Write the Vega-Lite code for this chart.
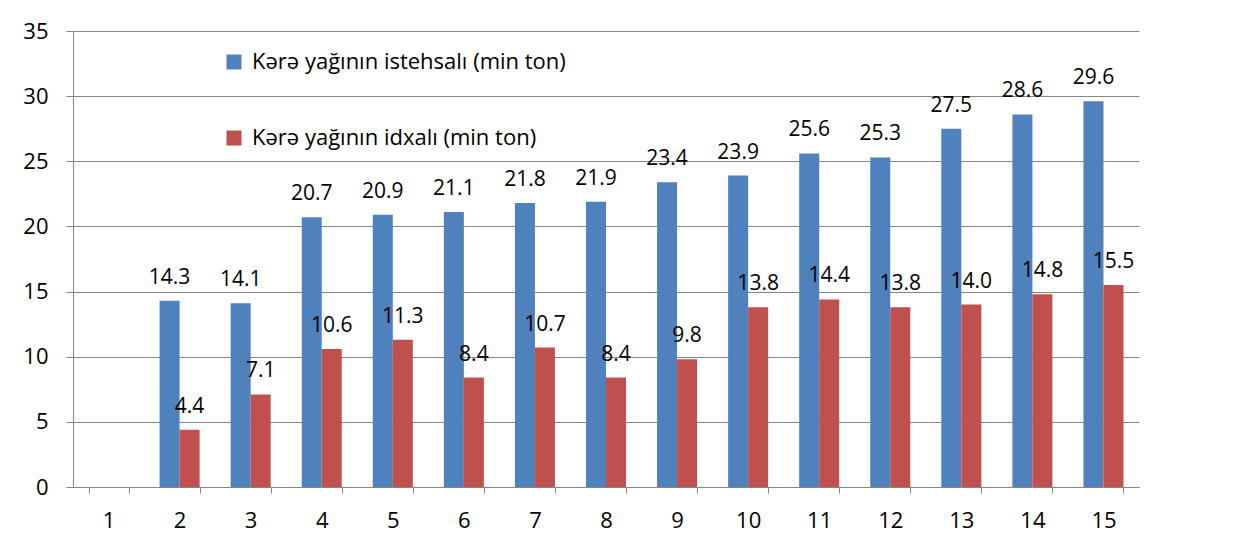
{
  "$schema": "https://vega.github.io/schema/vega-lite/v6.json",
  "width": 1066,
  "height": 456,
  "autosize": {"type": "none"},
  "padding": {"left": 73, "top": 31, "right": 105, "bottom": 62},
  "background": "white",
  "config": {
    "font": "Open Sans",
    "view": {"stroke": null},
    "axis": {"labelFont": "Open Sans", "labelFontSize": 22, "labelColor": "#000000", "domainColor": "#868686", "tickColor": "#868686", "gridColor": "#868686", "title": null}
  },
  "data": {
    "values": [
      {"n": 2, "series": "Kərə yağının istehsalı  (min ton)", "value": 14.3},
      {"n": 3, "series": "Kərə yağının istehsalı  (min ton)", "value": 14.1},
      {"n": 4, "series": "Kərə yağının istehsalı  (min ton)", "value": 20.7},
      {"n": 5, "series": "Kərə yağının istehsalı  (min ton)", "value": 20.9},
      {"n": 6, "series": "Kərə yağının istehsalı  (min ton)", "value": 21.1},
      {"n": 7, "series": "Kərə yağının istehsalı  (min ton)", "value": 21.8},
      {"n": 8, "series": "Kərə yağının istehsalı  (min ton)", "value": 21.9},
      {"n": 9, "series": "Kərə yağının istehsalı  (min ton)", "value": 23.4},
      {"n": 10, "series": "Kərə yağının istehsalı  (min ton)", "value": 23.9},
      {"n": 11, "series": "Kərə yağının istehsalı  (min ton)", "value": 25.6},
      {"n": 12, "series": "Kərə yağının istehsalı  (min ton)", "value": 25.3},
      {"n": 13, "series": "Kərə yağının istehsalı  (min ton)", "value": 27.5},
      {"n": 14, "series": "Kərə yağının istehsalı  (min ton)", "value": 28.6},
      {"n": 15, "series": "Kərə yağının istehsalı  (min ton)", "value": 29.6},
      {"n": 2, "series": "Kərə yağının idxalı (min ton)", "value": 4.4},
      {"n": 3, "series": "Kərə yağının idxalı (min ton)", "value": 7.1},
      {"n": 4, "series": "Kərə yağının idxalı (min ton)", "value": 10.6},
      {"n": 5, "series": "Kərə yağının idxalı (min ton)", "value": 11.3},
      {"n": 6, "series": "Kərə yağının idxalı (min ton)", "value": 8.4},
      {"n": 7, "series": "Kərə yağının idxalı (min ton)", "value": 10.7},
      {"n": 8, "series": "Kərə yağının idxalı (min ton)", "value": 8.4},
      {"n": 9, "series": "Kərə yağının idxalı (min ton)", "value": 9.8},
      {"n": 10, "series": "Kərə yağının idxalı (min ton)", "value": 13.8},
      {"n": 11, "series": "Kərə yağının idxalı (min ton)", "value": 14.4},
      {"n": 12, "series": "Kərə yağının idxalı (min ton)", "value": 13.8},
      {"n": 13, "series": "Kərə yağının idxalı (min ton)", "value": 14.0},
      {"n": 14, "series": "Kərə yağının idxalı (min ton)", "value": 14.8},
      {"n": 15, "series": "Kərə yağının idxalı (min ton)", "value": 15.5}
    ]
  },
  "encoding": {
    "x": {
      "field": "n",
      "type": "ordinal",
      "scale": {"domain": [1,2,3,4,5,6,7,8,9,10,11,12,13,14,15], "paddingInner": 0.437, "paddingOuter": 0.2185},
      "axis": {"labelAngle": 0, "tickBand": "extent", "tickSize": 6, "labelPadding": 17, "grid": false}
    },
    "xOffset": {
      "field": "series",
      "type": "nominal",
      "scale": {"domain": ["Kərə yağının istehsalı  (min ton)", "Kərə yağının idxalı (min ton)"], "paddingInner": 0, "paddingOuter": 0}
    },
    "y": {
      "field": "value",
      "type": "quantitative",
      "scale": {"domain": [0, 35], "nice": false},
      "axis": {"values": [0,5,10,15,20,25,30,35], "tickSize": 7, "labelPadding": 18, "grid": true, "gridWidth": 1}
    }
  },
  "layer": [
    {
      "mark": {"type": "bar"},
      "encoding": {
        "color": {
          "field": "series",
          "type": "nominal",
          "scale": {"domain": ["Kərə yağının istehsalı  (min ton)", "Kərə yağının idxalı (min ton)"], "range": ["#4F81BD", "#C0504D"]},
          "legend": {
            "title": null,
            "orient": "none",
            "legendX": 150,
            "legendY": 20,
            "symbolType": "square",
            "symbolSize": 225,
            "symbolStrokeWidth": 0,
            "labelFontSize": 22,
            "labelFont": "Open Sans",
            "labelColor": "#000000",
            "labelOffset": 7,
            "labelLimit": 600,
            "rowPadding": 54,
            "padding": 0
          }
        }
      }
    },
    {
      "mark": {"type": "text", "baseline": "alphabetic", "dy": -17, "fontSize": 21, "font": "Open Sans", "color": "#000000"},
      "encoding": {
        "text": {"field": "value", "type": "quantitative", "format": ".1f"}
      }
    }
  ]
}
